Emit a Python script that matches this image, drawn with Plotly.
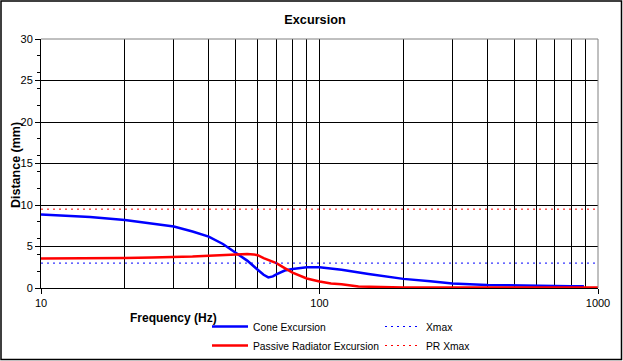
import plotly.graph_objects as go

# ---- data ----
cone_freq = [10, 12, 15, 20, 25, 30, 35, 40, 45, 50, 55, 60, 63, 65.5, 68, 70, 75, 80, 90,
             100, 110, 120, 150, 200, 250, 300, 400, 500, 600, 700, 800, 890]
cone_mm = [8.85, 8.7, 8.55, 8.2, 7.8, 7.4, 6.8, 6.2, 5.3, 4.3, 3.3, 2.2, 1.6, 1.28, 1.4, 1.65,
           2.1, 2.3, 2.5, 2.5, 2.35, 2.2, 1.7, 1.1, 0.8, 0.55, 0.37, 0.28, 0.25, 0.23, 0.22, 0.21]

pr_freq = [10, 15, 20, 25, 30, 35, 40, 45, 50, 55, 58, 60, 63, 66, 70, 75, 80, 90, 100,
           110, 120, 138, 150, 175, 200, 300, 500, 1000]
pr_mm = [3.55, 3.55, 3.6, 3.68, 3.7, 3.8, 3.9, 4.0, 4.1, 4.1, 4.05, 3.95, 3.6, 3.3, 3.0,
         2.4, 1.85, 1.15, 0.78, 0.55, 0.45, 0.18, 0.14, 0.08, 0.06, 0.05, 0.05, 0.05]

xmax_freq = [10, 1000]
xmax_mm = [3.0, 3.0]
pr_xmax_mm = [9.5, 9.5]

x_ticks = [10, 100, 1000]
x_minor = [20, 30, 40, 50, 60, 70, 80, 90, 200, 300, 400, 500, 600, 700, 800, 900]

FONT = "Liberation Sans, Arial, sans-serif"

fig = go.Figure()
fig.add_trace(go.Scatter(x=cone_freq, y=cone_mm, mode="lines", name="Cone Excursion",
                         line=dict(color="#0000FF", width=2.5), legend="legend"))
fig.add_trace(go.Scatter(x=pr_freq, y=pr_mm, mode="lines", name="Passive Radiator Excursion",
                         line=dict(color="#FF0000", width=2.5), legend="legend"))
fig.add_trace(go.Scatter(x=xmax_freq, y=xmax_mm, mode="lines", name="Xmax",
                         line=dict(color="#0000FF", width=1, dash="2px,4px"), legend="legend2"))
fig.add_trace(go.Scatter(x=xmax_freq, y=pr_xmax_mm, mode="lines", name="PR Xmax",
                         line=dict(color="#FF0000", width=1, dash="2px,4px"), legend="legend2"))

W, H = 623, 361
L, R, T, B = 41, 25, 39, 73
pw, ph = W - L - R, H - T - B

def px(x):
    return (x - L) / pw

def py(y):
    return (H - B - y) / ph

LEG_FONT = dict(size=10.3, family=FONT)

fig.update_layout(
    width=W, height=H,
    margin=dict(l=L, r=R, t=T, b=B, autoexpand=False),
    paper_bgcolor="white", plot_bgcolor="white",
    font=dict(family=FONT, size=11, color="black"),
    title=dict(text="<b>Excursion</b>", xref="container", x=315 / W, xanchor="center",
               yref="container", y=1 - 20 / H, yanchor="middle", font=dict(size=12.7, family=FONT)),
    showlegend=True,
    legend=dict(x=px(207), y=py(312), xanchor="left", yanchor="top", orientation="v",
                itemwidth=36, bgcolor="rgba(0,0,0,0)", font=LEG_FONT, tracegroupgap=0),
    legend2=dict(x=px(380), y=py(312), xanchor="left", yanchor="top", orientation="v",
                 itemwidth=36, bgcolor="rgba(0,0,0,0)", font=LEG_FONT, tracegroupgap=0),
    xaxis=dict(type="log", range=[1, 3], tickvals=x_ticks, ticktext=[str(v) for v in x_ticks],
               showgrid=True, gridcolor="black", gridwidth=1, automargin=False,
               showline=True, linecolor="black", linewidth=1,
               ticks="outside", ticklen=5, tickcolor="black",
               minor=dict(tickvals=x_minor, showgrid=True, gridcolor="black", gridwidth=1, ticks=""),
               zeroline=False, fixedrange=True),
    yaxis=dict(range=[0, 30], dtick=5, tick0=0, showgrid=True, gridcolor="black", gridwidth=1,
               showline=True, linecolor="black", linewidth=1, automargin=False,
               ticks="outside", ticklen=5, tickcolor="black",
               minor=dict(dtick=2, ticks="outside", ticklen=3, tickcolor="black", showgrid=False),
               zeroline=False, fixedrange=True),
    annotations=[
        dict(text="<b>Frequency (Hz)</b>", x=px(173), y=py(318), xref="paper", yref="paper",
             showarrow=False, xanchor="center", yanchor="middle", font=dict(size=12, family=FONT)),
        dict(text="<b>Distance (mm)</b>", x=px(16), y=py(165), xref="paper", yref="paper",
             showarrow=False, xanchor="center", yanchor="middle", textangle=-90,
             font=dict(size=12.5, family=FONT)),
    ],
    shapes=[
        dict(type="line", xref="paper", yref="paper", x0=0, x1=1, y0=1, y1=1,
             line=dict(color="#808080", width=1), layer="above"),
        dict(type="line", xref="paper", yref="paper", x0=1, x1=1, y0=0, y1=1,
             line=dict(color="#808080", width=1), layer="above"),
        dict(type="rect", xref="paper", yref="paper", x0=px(1), x1=px(621.5), y0=py(1), y1=py(359.5),
             line=dict(color="black", width=1.5), layer="above"),
    ],
)

fig.write_html("out.html", config={"displayModeBar": False},
               post_script="document.body.style.margin='0';document.body.style.padding='0';")
